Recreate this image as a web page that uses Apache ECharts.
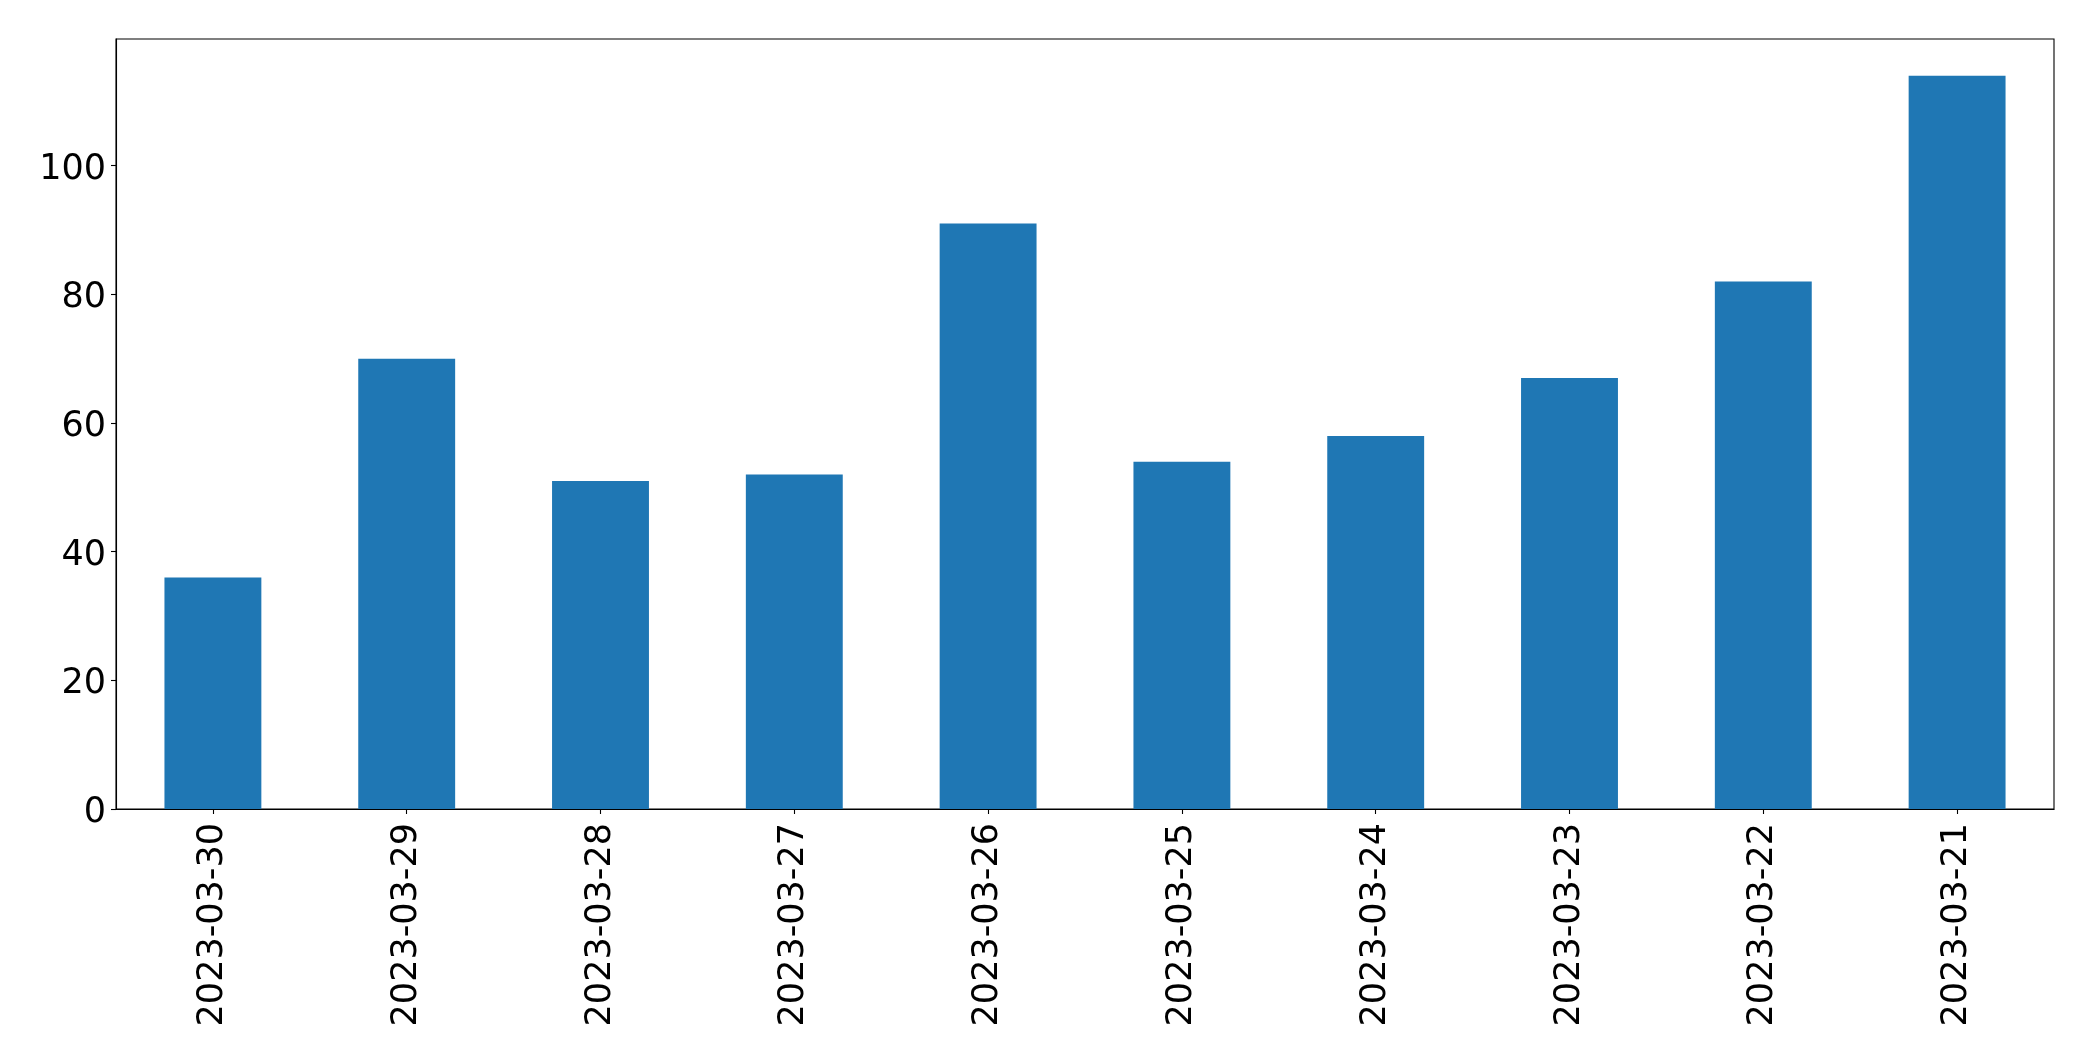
<!DOCTYPE html>
<html>
<head>
<meta charset="utf-8">
<script src="https://cdn.jsdelivr.net/npm/echarts@6/dist/echarts.min.js"></script>
<style>
html,body{margin:0;padding:0;background:#fff;}
#chart{width:2093px;height:1061px;}
</style>
</head>
<body>
<div id="chart"></div>
<script>
const categories = ["2023-03-30","2023-03-29","2023-03-28","2023-03-27","2023-03-26","2023-03-25","2023-03-24","2023-03-23","2023-03-22","2023-03-21"];
const values = [36, 70, 51, 52, 91, 54, 58, 67, 82, 114];
const yTicks = [0, 20, 40, 60, 80, 100];

const chart = echarts.init(document.getElementById('chart'), null, {renderer: 'canvas'});
const font = 'DejaVu Sans';
chart.setOption({
  animation: false,
  backgroundColor: '#ffffff',
  grid: {left: 116, right: 39, top: 39, bottom: 252, show: true, borderColor: '#000', borderWidth: 1.1, containLabel: false},
  xAxis: {
    type: 'category',
    data: categories,
    boundaryGap: true,
    axisLine: {show: true, lineStyle: {color: '#000', width: 1.1}},
    axisTick: {show: true, alignWithLabel: true, length: 5, lineStyle: {color: '#000', width: 1.1}},
    axisLabel: {rotate: 90, margin: 14, color: '#000', fontFamily: font, fontSize: 35},
    splitLine: {show: false}
  },
  yAxis: {
    type: 'value',
    min: 0,
    max: 119.7,
    interval: 20,
    axisLine: {show: true, lineStyle: {color: '#000', width: 1.1}},
    axisTick: {show: true, length: 5, lineStyle: {color: '#000', width: 1.1}},
    axisLabel: {
      margin: 10, color: '#000', fontFamily: font, fontSize: 35, showMaxLabel: false,
      formatter: v => yTicks.indexOf(v) >= 0 ? '{a|' + v + '}' : '',
      rich: {a: {fontFamily: font, fontSize: 35, color: '#000', padding: [8, 0, 0, 0]}}
    },
    splitLine: {show: false}
  },
  series: [{
    type: 'bar',
    data: values,
    barWidth: '50%',
    itemStyle: {color: '#1f77b4'}
  }]
});
</script>
</body>
</html>
